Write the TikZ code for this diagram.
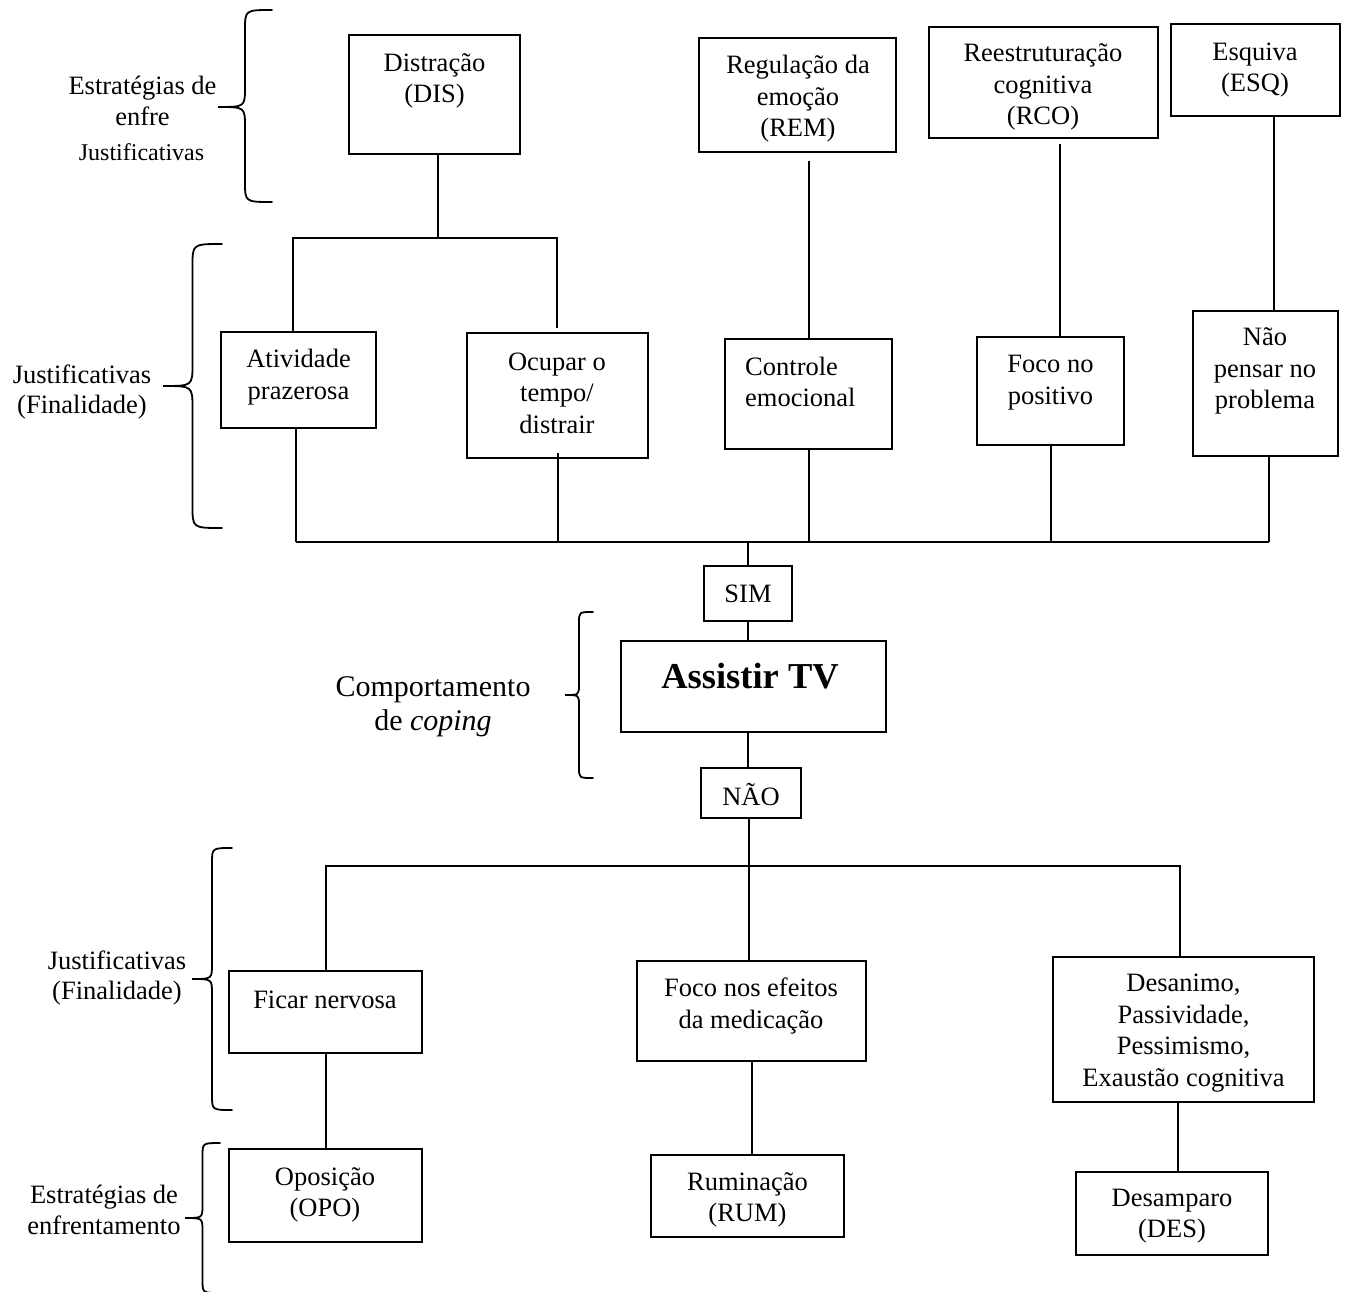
\documentclass[tikz,border=0pt]{standalone}
\usepackage{fontspec}
\setmainfont{Liberation Serif}
\usetikzlibrary{fit}

% curly brace opening to the left: x of open ends, x of tip, top y, bottom y, tip y
\newcommand\curlybrace[5]{%
  \pgfmathsetmacro\cbxv{(#1+#2)/2}%
  \pgfmathsetmacro\cbd{0.75*(#1-#2)/2}%
  \draw[brc] (#1,#3) .. controls (\cbxv,#3) .. (\cbxv,#3+\cbd)
    -- (\cbxv,#5-\cbd) .. controls (\cbxv,#5) .. (#2,#5)
    .. controls (\cbxv,#5) .. (\cbxv,#5+\cbd)
    -- (\cbxv,#4-\cbd) .. controls (\cbxv,#4) .. (#1,#4);}

\begin{document}
\begin{tikzpicture}[x=1pt,y=-1pt,
  bx/.style={draw, line width=2pt, inner sep=0pt},
  tx/.style={inner sep=0pt, align=center, font=\fontsize{26.5}{31.5}\selectfont},
  lbl/.style={inner sep=0pt, align=center, font=\fontsize{26.5}{30.5}\selectfont},
  ln/.style={line width=2pt},
  brc/.style={line width=1.8pt, line cap=round}]
\useasboundingbox (0,0) rectangle (1346,1292);

% ---- strategies (top row) ----
\node[bx, fit={(349,35) (520,154)}] (dis) {};
\node[tx] (dis-t) at (434.5,81) {Distração\\(DIS)};
\node[bx, fit={(699,38) (896,152)}] (rem) {};
\node[tx] (rem-t) at (798,99) {Regulação da\\emoção\\(REM)};
\node[bx, fit={(929,27) (1158,138)}] (rco) {};
\node[tx] (rco-t) at (1043,87) {Reestruturação\\cognitiva\\(RCO)};
\node[bx, fit={(1171,24) (1340,116)}] (esq) {};
\node[tx] (esq-t) at (1255,70) {Esquiva\\(ESQ)};

% ---- justifications (upper) ----
\node[bx, fit={(221,332) (376,428)}] (ativ) {};
\node[tx] (ativ-t) at (298.5,377) {Atividade\\prazerosa};
\node[bx, fit={(467,333) (648,458)}] (ocup) {};
\node[tx] (ocup-t) at (557,393) {Ocupar o\\tempo/\\distrair};
\node[bx, fit={(725,339) (892,449)}] (ctrl) {};
\node[tx, align=left, anchor=west] (ctrl-t) at (745,382) {Controle\\emocional};
\node[bx, fit={(977,337) (1124,445)}] (foco) {};
\node[tx] (foco-t) at (1050.5,382.5) {Foco no\\positivo};
\node[bx, fit={(1193,311) (1338,456)}] (naop) {};
\node[tx] (naop-t) at (1265,371) {Não\\pensar no\\problema};

% ---- central behaviour ----
\node[bx, fit={(704,566) (792,621)}] (sim) {};
\node[tx] (sim-t) at (748,594) {SIM};
\node[bx, fit={(621,641) (886,732)}] (tv) {};
\node[inner sep=0pt, font=\fontsize{36.5}{40}\selectfont\bfseries] (tv-t) at (750,676) {Assistir TV};
\node[bx, fit={(701,768) (801,818)}] (nao) {};
\node[tx] (nao-t) at (751,795) {NÃO};

% ---- justifications (lower) ----
\node[bx, fit={(229,971) (422,1053)}] (ficar) {};
\node[tx] (ficar-t) at (325,1000) {Ficar nervosa};
\node[bx, fit={(637,961) (866,1061)}] (foco2) {};
\node[tx] (foco2-t) at (751,1006) {Foco nos efeitos\\da medicação};
\node[bx, fit={(1053,957) (1314,1102)}] (desa) {};
\node[tx] (desa-t) at (1183.5,1033) {Desanimo,\\Passividade,\\Pessimismo,\\Exaustão cognitiva};

% ---- strategies (bottom row) ----
\node[bx, fit={(229,1149) (422,1242)}] (opo) {};
\node[tx] (opo-t) at (325,1195) {Oposição\\(OPO)};
\node[bx, fit={(651,1155) (844,1237)}] (rum) {};
\node[tx] (rum-t) at (747.5,1200) {Ruminação\\(RUM)};
\node[bx, fit={(1076,1172) (1268,1255)}] (desp) {};
\node[tx] (desp-t) at (1172,1216) {Desamparo\\(DES)};

% ---- side labels ----
\node[lbl] (l1) at (142.5,101) {Estratégias de\\enfre};
\node[inner sep=0pt, font=\fontsize{24}{28}\selectfont] (l1b) at (141.5,152) {Justificativas};
\node[lbl] (l2) at (82,392) {Justificativas\\(Finalidade)};
\node[inner sep=0pt, align=center, font=\fontsize{30}{34}\selectfont] (l3) at (433,707) {Comportamento\\de \textit{coping}};
\node[lbl] (l4) at (117,978) {Justificativas\\(Finalidade)};
\node[lbl] (l5) at (104,1210) {Estratégias de\\enfrentamento};

% ---- braces ----
\curlybrace{272}{218}{10}{202}{107}
\curlybrace{222}{163}{244}{528}{386}
\curlybrace{593}{565}{612}{778}{695}
\curlybrace{232}{192}{848}{1110}{979}
\curlybrace{220}{185}{1143}{1293}{1218}

% ---- connectors: upper tree ----
\coordinate (fk) at (438,238);
\coordinate (fkL) at (293,238);
\coordinate (fkR) at (557,238);
\draw[ln] (dis.south -| fk) -- (fk);
\draw[ln] (ativ.north -| fkL) |- (fkR) -- ([yshift=4pt]ocup.north -| fkR);
\draw[ln] ([yshift=-8pt]rem.south -| ctrl.north) -- (ctrl.north);
\coordinate (xrco) at (1060,0);
\coordinate (xesq) at (1274,0);
\draw[ln] ([yshift=-5pt]rco.south -| xrco) -- (foco.north -| xrco);
\draw[ln] (esq.south -| xesq) -- (naop.north -| xesq);

% ---- connectors: upper bus into SIM ----
\coordinate (bus) at (748,542);
\coordinate (xa) at (296,0);
\coordinate (xn) at (1269,0);
\draw[ln] (ativ.south -| xa) -- (xa |- bus);
\draw[ln] ([yshift=6pt]ocup.south) -- (ocup.south |- bus);
\draw[ln] (ctrl.south) -- (ctrl.south |- bus);
\draw[ln] (foco.south) -- (foco.south |- bus);
\draw[ln] (naop.south -| xn) -- (xn |- bus);
\draw[ln] (xa |- bus) -- (xn |- bus);
\draw[ln] (bus) -- (sim.north -| bus);
\draw[ln] (sim.south -| bus) -- (tv.north -| bus);
\draw[ln] (tv.south -| bus) -- (nao.north -| bus);

% ---- connectors: lower tree ----
\coordinate (bus2) at (749,866);
\coordinate (xd) at (1180,0);
\coordinate (xd2) at (1178,0);
\draw[ln] (nao.south -| bus2) -- (bus2);
\draw[ln] (ficar.north) -- (ficar.north |- bus2) -- (xd |- bus2) -- (desa.north -| xd);
\draw[ln] (bus2) -- (foco2.north -| bus2);
\draw[ln] (ficar.south) -- (opo.north);
\draw[ln] (foco2.south) -- (rum.north -| foco2.south);
\draw[ln] (desa.south -| xd2) -- (desp.north -| xd2);
\end{tikzpicture}
\end{document}
